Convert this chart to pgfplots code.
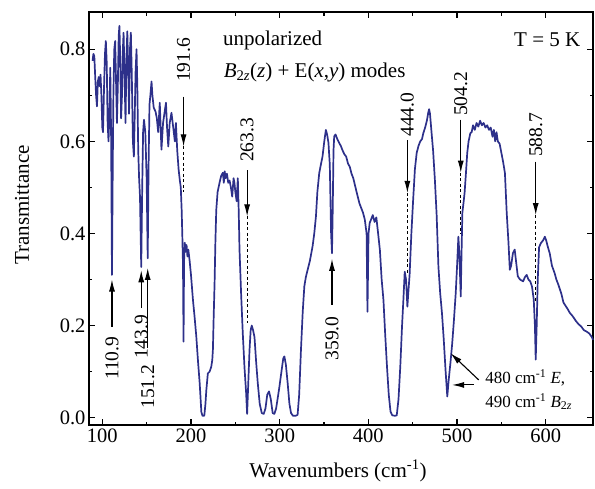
\documentclass[border=0pt]{standalone}
\usepackage{fontspec}
\setmainfont{Liberation Serif}
\usepackage{pgfplots}
\pgfplotsset{compat=1.18}
\usetikzlibrary{arrows.meta}
\definecolor{spec}{RGB}{45,48,138}
\newcommand{\fa}{\fontsize{20.5}{23}\selectfont}
\newcommand{\fr}{\fontsize{19.5}{22}\selectfont}
\newcommand{\fb}{\fontsize{21}{24}\selectfont}
\newcommand{\fc}{\fontsize{17}{20}\selectfont}
\begin{document}
\begin{tikzpicture}[x=1pt,y=1pt]
\begin{axis}[
  at={(0,0)}, anchor=south west,
  scale only axis, width=504pt, height=413pt,
  xmin=85, xmax=653.3, ymin=-0.016, ymax=0.881,
  xtick={100,200,...,600}, minor x tick num=1,
  ytick={0,0.2,0.4,0.6,0.8}, minor y tick num=1,
  tick align=inside, major tick length=6pt, minor tick length=3.5pt,
  axis line style={line width=1.2pt},
  every tick/.style={line width=1.1pt, black},
  /pgf/number format/assume math mode=true,
  ticklabel style={font=\fa},
  yticklabel style={/pgf/number format/fixed, /pgf/number format/fixed zerofill, /pgf/number format/precision=1},
  xticklabel style={/pgf/number format/1000 sep={}},
  xlabel={Wavenumbers (cm\textsuperscript{-1})},
  ylabel={Transmittance},
  label style={font=\fb},
  xlabel style={at={(axis description cs:0.494,-0.111)}, anchor=center},
  ylabel style={at={(axis description cs:-0.133,0.533)}, anchor=center},
  clip=false,
]
\addplot[spec, line width=1.7pt, line join=round] coordinates {
(89.0,0.775)(90.0,0.79)(91.0,0.785)(92.0,0.74)(93.0,0.70)(94.0,0.676)(95.0,0.73)(96.0,0.74)(97.0,0.72)(98.0,0.745)(99.0,0.70)(100.0,0.63)(100.8,0.62)(102.0,0.72)(103.0,0.79)(104.0,0.818)(105.0,0.77)(106.0,0.64)(107.0,0.60)(108.0,0.66)(109.0,0.76)(110.0,0.60)(110.9,0.31)(111.8,0.55)(112.5,0.70)(113.5,0.80)(114.5,0.818)(115.5,0.73)(116.5,0.64)(117.5,0.72)(118.5,0.83)(119.3,0.851)(120.2,0.78)(121.2,0.65)(122.2,0.70)(123.2,0.80)(124.0,0.836)(125.0,0.75)(126.2,0.64)(127.2,0.78)(128.2,0.839)(129.2,0.76)(130.2,0.66)(131.2,0.80)(132.2,0.836)(133.2,0.75)(134.5,0.60)(135.6,0.567)(136.5,0.65)(137.5,0.75)(138.6,0.80)(139.5,0.72)(140.5,0.58)(141.5,0.52)(142.5,0.48)(143.9,0.327)(145.0,0.50)(146.0,0.62)(147.0,0.647)(148.5,0.62)(150.0,0.52)(151.2,0.346)(152.2,0.55)(153.2,0.68)(154.2,0.70)(155.5,0.73)(156.5,0.70)(158.0,0.673)(160.0,0.665)(161.5,0.65)(163.0,0.62)(164.8,0.684)(166.7,0.582)(168.5,0.64)(170.0,0.66)(171.8,0.684)(173.0,0.63)(174.4,0.589)(176.0,0.64)(178.0,0.662)(180.0,0.63)(181.8,0.60)(183.0,0.64)(184.5,0.58)(186.0,0.54)(187.3,0.517)(188.5,0.50)(189.5,0.45)(190.3,0.39)(191.0,0.33)(191.6,0.165)(192.2,0.34)(193.0,0.38)(194.0,0.36)(195.0,0.375)(196.0,0.35)(197.0,0.365)(198.5,0.34)(200.0,0.31)(202.2,0.256)(204.0,0.22)(206.0,0.176)(208.0,0.12)(209.8,0.075)(211.7,0.012)(213.0,0.004)(215.0,0.004)(216.3,0.03)(217.3,0.06)(219.0,0.096)(221.0,0.10)(222.8,0.11)(224.0,0.125)(224.7,0.147)(225.6,0.22)(226.6,0.292)(227.5,0.38)(228.5,0.451)(230.0,0.49)(232.2,0.51)(234.0,0.525)(236.0,0.532)(237.0,0.51)(238.0,0.535)(239.0,0.52)(240.5,0.53)(242.0,0.51)(243.5,0.515)(245.0,0.50)(246.5,0.48)(248.0,0.52)(249.0,0.51)(250.0,0.49)(251.5,0.47)(252.8,0.52)(253.8,0.45)(254.7,0.365)(256.5,0.27)(258.4,0.183)(260.3,0.11)(262.2,0.053)(263.3,0.008)(264.5,0.07)(266.0,0.147)(267.3,0.19)(268.5,0.20)(270.0,0.19)(271.6,0.175)(273.5,0.12)(275.3,0.075)(277.5,0.03)(279.8,0.01)(282.0,0.008)(284.0,0.02)(286.0,0.05)(288.0,0.057)(290.0,0.04)(292.1,0.01)(294.0,0.008)(296.0,0.02)(298.0,0.045)(299.7,0.067)(302.0,0.10)(304.0,0.128)(305.3,0.133)(307.0,0.115)(309.0,0.075)(311.0,0.03)(312.8,0.01)(315.0,0.004)(318.0,0.004)(320.2,0.006)(322.0,0.05)(324.0,0.147)(326.0,0.23)(327.8,0.285)(329.5,0.305)(331.5,0.321)(334.0,0.34)(337.1,0.372)(339.0,0.40)(340.9,0.437)(342.5,0.49)(344.6,0.531)(346.5,0.55)(348.3,0.567)(350.3,0.60)(352.1,0.625)(353.5,0.615)(355.0,0.597)(356.5,0.55)(358.0,0.40)(359.0,0.357)(359.8,0.45)(360.7,0.58)(361.5,0.611)(363.0,0.615)(365.0,0.605)(367.0,0.597)(369.0,0.59)(371.0,0.58)(373.0,0.572)(375.0,0.567)(377.0,0.552)(379.0,0.545)(381.0,0.53)(383.0,0.52)(385.5,0.50)(388.0,0.48)(390.0,0.465)(392.0,0.455)(394.0,0.445)(396.0,0.43)(398.0,0.40)(399.0,0.23)(400.2,0.40)(401.5,0.423)(403.0,0.43)(405.0,0.44)(407.0,0.425)(409.0,0.435)(411.0,0.40)(413.0,0.364)(415.0,0.30)(417.0,0.256)(419.0,0.18)(421.0,0.111)(423.0,0.05)(425.0,0.013)(427.0,0.005)(430.0,0.004)(432.0,0.005)(434.0,0.04)(436.0,0.111)(438.0,0.20)(439.5,0.256)(441.0,0.317)(442.5,0.30)(444.0,0.241)(445.0,0.27)(446.5,0.31)(448.5,0.40)(450.5,0.473)(452.5,0.54)(454.5,0.575)(456.5,0.59)(458.5,0.60)(460.5,0.605)(462.0,0.618)(464.0,0.63)(466.0,0.645)(467.5,0.662)(468.5,0.67)(469.5,0.66)(471.0,0.625)(473.0,0.58)(475.0,0.517)(477.0,0.44)(479.0,0.328)(481.0,0.27)(483.0,0.227)(485.0,0.17)(487.0,0.104)(489.0,0.046)(490.5,0.08)(492.5,0.118)(494.5,0.16)(496.5,0.212)(498.5,0.27)(500.0,0.328)(501.5,0.393)(502.5,0.36)(504.2,0.263)(505.0,0.35)(506.0,0.445)(507.5,0.47)(508.5,0.488)(510.0,0.53)(511.5,0.575)(513.0,0.60)(515.0,0.618)(516.5,0.62)(518.0,0.635)(520.0,0.625)(522.0,0.64)(524.0,0.632)(526.0,0.645)(528.0,0.635)(530.0,0.64)(532.0,0.63)(534.0,0.635)(536.0,0.625)(538.0,0.63)(540.0,0.61)(541.5,0.625)(543.0,0.60)(544.5,0.62)(546.0,0.60)(548.0,0.595)(550.0,0.575)(552.0,0.555)(554.0,0.531)(556.0,0.445)(558.0,0.38)(559.5,0.321)(561.0,0.33)(563.0,0.357)(565.0,0.365)(566.5,0.34)(568.5,0.307)(571.0,0.30)(574.5,0.296)(576.5,0.305)(578.5,0.31)(580.5,0.30)(582.5,0.296)(584.5,0.285)(586.5,0.256)(587.8,0.20)(588.7,0.126)(589.8,0.20)(591.0,0.30)(592.5,0.37)(594.5,0.379)(597.0,0.385)(599.0,0.393)(600.5,0.385)(602.5,0.37)(604.5,0.357)(607.0,0.33)(610.0,0.314)(612.0,0.30)(614.0,0.29)(617.5,0.27)(620.0,0.25)(623.0,0.241)(625.0,0.235)(627.0,0.228)(630.5,0.22)(634.0,0.21)(637.0,0.203)(640.0,0.198)(643.0,0.19)(646.0,0.187)(649.0,0.183)(652.0,0.175)(653.3,0.169)
};
% top annotations
\node[font=\fb] at (axis cs:292,0.82) {unpolarized};
\node[font=\fb, anchor=west] at (axis cs:233,0.749) {\textit{B}\textsubscript{2\textit{z}}(\textit{z}) + E(\textit{x},\textit{y}) modes};
\node[font=\fb, anchor=east] at (axis cs:643,0.82) {T = 5 K};
% downward arrows with dashed extensions
\tikzset{arr/.style={-{Latex[length=12pt,width=6pt]}, line width=1.1pt, black}, dsh/.style={line width=0.9pt, black, dash pattern=on 3pt off 2.5pt}}
\foreach \xx/\lab/\ty/\ya/\yb/\yc in {191.6/191.6/0.777/0.697/0.589/0.49, 263.3/263.3/0.603/0.537/0.437/0.205, 444.0/444.0/0.658/0.603/0.488/0.31, 504.2/504.2/0.703/0.647/0.532/0.40, 588.7/588.7/0.614/0.556/0.44/0.25}{
  \edef\tmp{\noexpand\node[rotate=90, font=\noexpand\fr] at (axis cs:\xx,\ty) {\lab};
  \noexpand\draw[arr] (axis cs:\xx,\ya) -- (axis cs:\xx,\yb);
  \noexpand\draw[dsh] (axis cs:\xx,\yb) -- (axis cs:\xx,\yc);}\tmp
}
% upward arrows
\foreach \xx/\lab/\ty/\ya/\yb in {110.9/110.9/0.129/0.197/0.30, 143.9/143.9/0.175/0.238/0.32, 151.2/151.2/0.067/0.151/0.325, 359.0/359.0/0.172/0.245/0.345}{
  \edef\tmp{\noexpand\node[rotate=90, font=\noexpand\fr] at (axis cs:\xx,\ty) {\lab};
  \noexpand\draw[arr] (axis cs:\xx,\ya) -- (axis cs:\xx,\yb);}\tmp
}
% E / B2z arrows
\draw[arr] (axis cs:524.4,0.082) -- (axis cs:492.6,0.14);
\draw[arr] (axis cs:518.8,0.071) -- (axis cs:494.4,0.071);
\node[font=\fc, anchor=west] at (axis cs:528,0.086) {480 cm\textsuperscript{-1} \textit{E},};
\node[font=\fc, anchor=west] at (axis cs:528,0.035) {490 cm\textsuperscript{-1} \textit{B}\textsubscript{2\textit{z}}};
\end{axis}
\pgfresetboundingbox
\path[use as bounding box] (-89,-63) rectangle (506,425);
\end{tikzpicture}
\end{document}
